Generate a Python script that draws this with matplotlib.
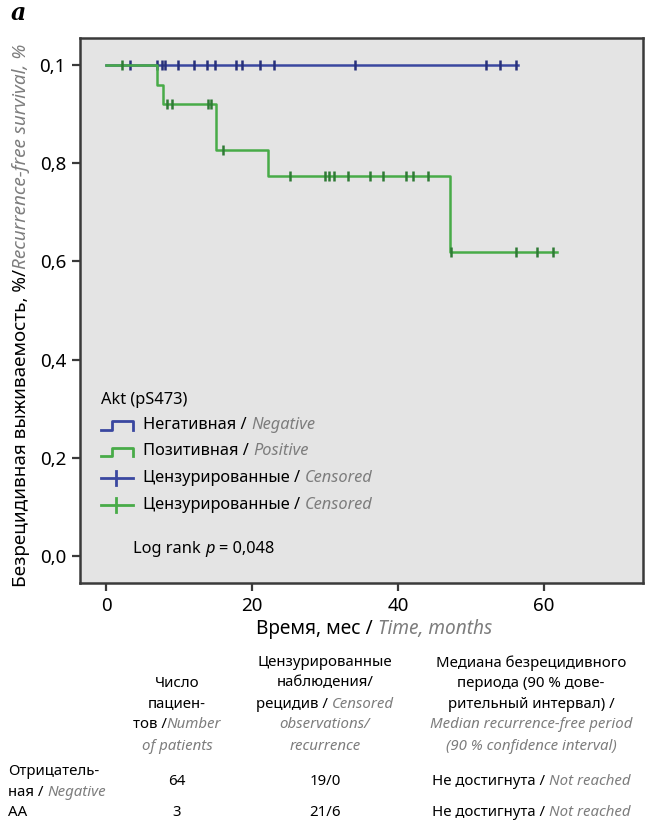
import numpy as np
import matplotlib
matplotlib.use("Agg")
import matplotlib.pyplot as plt
from matplotlib.lines import Line2D

plt.rcParams['font.family'] = ['Noto Sans', 'DejaVu Sans']

# ---------------- data ----------------
neg_end = 56.5
neg_censor = [3.2, 6.9, 7.6, 8.1, 9.9, 12.0, 13.8, 14.9, 17.8, 18.6, 21.1, 23.0,
              34.1, 52.1, 54.0, 56.2]
pos_event_times = [7.0, 7.8, 15.1, 22.2, 47.2]
pos_event_surv = [0.959, 0.921, 0.826, 0.774, 0.619]
pos_end = 61.8
pos_censor = [2.2, 8.3, 9.0, 13.9, 14.4, 16.0, 25.2, 30.0, 30.6, 31.2, 33.1, 36.1,
              38.0, 41.1, 42.1, 44.1, 47.3, 56.2, 59.1, 61.3]

xticks = [0, 20, 40, 60]
yticks = [0.0, 0.2, 0.4, 0.6, 0.8, 1.0]
ytick_labels = ["0,0", "0,2", "0,4", "0,6", "0,8", "0,1"]

table_rows = [("64", "19/0"), ("3", "21/6")]

# ---------------- style ----------------
W, H = 646, 822
BLUE = '#3a47a0'
GREEN = '#48ab48'
BLUE_M = '#27307a'
GREEN_M = '#2f7a35'
GRAY = '#7d7d7d'
FRAME = '#3a3a3a'

fig = plt.figure(figsize=(W / 100, H / 100), dpi=100)
ax = fig.add_axes([80 / W, 1 - 583 / H, 563 / W, 545 / H])
ax.set_facecolor('#e4e4e4')
ax.set_xlim(-3.6, 73.6)
ax.set_ylim(-0.055, 1.055)

def step_curve(ev_t, ev_s, end):
    t = np.concatenate([[0.0], ev_t, [end]])
    s = np.concatenate([[1.0], ev_s, [ev_s[-1] if len(ev_s) else 1.0]])
    return t, s

def surv_at(times, ev_t, ev_s):
    ev_t = np.asarray(ev_t); ev_s = np.asarray(ev_s)
    idx = np.searchsorted(ev_t, np.asarray(times), side='right')
    full = np.concatenate([[1.0], ev_s])
    return full[idx]

# negative group
tn, sn = step_curve(np.array([]), np.array([]), neg_end)
ax.step(tn, sn, where='post', color=BLUE, lw=1.8, zorder=3)
ax.plot(neg_censor, surv_at(neg_censor, [], []), ls='none', marker='|',
        ms=7, mew=1.8, color=BLUE_M, zorder=4)
# positive group
tp, sp = step_curve(np.array(pos_event_times), np.array(pos_event_surv), pos_end)
ax.step(tp, sp, where='post', color=GREEN, lw=1.8, zorder=5)
ax.plot(pos_censor, surv_at(pos_censor, pos_event_times, pos_event_surv), ls='none',
        marker='|', ms=7, mew=1.8, color=GREEN_M, zorder=6)

ax.set_xticks(xticks)
ax.set_xticklabels([str(x) for x in xticks])
ax.set_yticks(yticks)
ax.set_yticklabels(ytick_labels)
ax.tick_params(axis='both', length=6, width=1.6, color=FRAME, labelsize=13.5, pad=4)
for sp_ in ax.spines.values():
    sp_.set_color(FRAME)
    sp_.set_linewidth(1.8)

# ---------------- text helper ----------------
def fx(x):
    return x / W

def fy(y):
    return 1 - y / H

renderer = fig.canvas.get_renderer()

def space_w(size, italic=False):
    a = fig.text(0, 0, "x x", fontsize=size, style='italic' if italic else 'normal')
    b = fig.text(0, 0, "xx", fontsize=size, style='italic' if italic else 'normal')
    w = a.get_window_extent(renderer).width - b.get_window_extent(renderer).width
    a.remove(); b.remove()
    return w

def mixed(x, y, parts, size=11.5, ha='center', rotation=0):
    """parts: list of (text, style) with style in 'ru', 'en', 'it'"""
    items = []
    for s, st in parts:
        lead = len(s) - len(s.lstrip(' '))
        trail = len(s) - len(s.rstrip(' '))
        core = s.strip(' ')
        kw = dict(fontsize=size, color='black')
        if st == 'en':
            kw.update(color=GRAY, style='italic')
        elif st == 'it':
            kw.update(style='italic')
        italic = st in ('en', 'it')
        if rotation == 0:
            t = fig.text(0, 0, core, ha='left', va='center', **kw)
        else:
            t = fig.text(0, 0, core, ha='center', va='bottom', rotation=rotation,
                         rotation_mode='default', **kw)
        sw = space_w(size, italic)
        items.append((t, lead * sw, trail * sw))
    if rotation == 0:
        widths = [it[0].get_window_extent(renderer).width for it in items]
        total = sum(w + l + r for (t, l, r), w in zip(items, widths))
        pos = x - total / 2 if ha == 'center' else x
        for (t, l, r), w in zip(items, widths):
            pos += l
            t.set_position((fx(pos), fy(y)))
            pos += w + r
    else:
        hs = [it[0].get_window_extent(renderer).height for it in items]
        total = sum(h + l + r for (t, l, r), h in zip(items, hs))
        pos = (H - y) - total / 2  # from bottom
        for (t, l, r), h in zip(items, hs):
            pos += l
            t.set_position((fx(x), pos / H))
            pos += h + r

# panel letter
fig.text(fx(11), fy(13), "a", fontsize=17, fontweight='bold', style='italic',
         family='DejaVu Serif', ha='left', va='center')

# y label
mixed(21, 315, [("Безрецидивная выживаемость, %/", 'ru'),
                ("Recurrence-free survival, %", 'en')], size=13.6, rotation=90)
# x label
mixed(374, 629, [("Время, мес / ", 'ru'), ("Time, months", 'en')], size=13.7)

# legend (inside axes)
LS = 11.8
fig.text(fx(101), fy(400), "Akt (pS473)", fontsize=LS, ha='left', va='center')
mixed(143, 425, [("Негативная / ", 'ru'), ("Negative", 'en')], size=LS, ha='left')
mixed(143, 451, [("Позитивная / ", 'ru'), ("Positive", 'en')], size=LS, ha='left')
mixed(143, 478, [("Цензурированные / ", 'ru'), ("Censored", 'en')], size=LS, ha='left')
mixed(143, 505, [("Цензурированные / ", 'ru'), ("Censored", 'en')], size=LS, ha='left')
mixed(133, 549, [("Log rank ", 'ru'), ("p", 'it'), (" = 0,048", 'ru')], size=LS, ha='left')

def icon_step(y_low, y_high, color):
    xs = [101, 112, 112, 133, 133]
    ys = [y_low, y_low, y_high, y_high, y_low]
    fig.add_artist(Line2D([fx(v) for v in xs], [fy(v) for v in ys],
                          transform=fig.transFigure, color=color, lw=2))

def icon_cross(yc, color):
    fig.add_artist(Line2D([fx(101), fx(133)], [fy(yc), fy(yc)],
                          transform=fig.transFigure, color=color, lw=2))
    fig.add_artist(Line2D([fx(116), fx(116)], [fy(yc - 7), fy(yc + 7)],
                          transform=fig.transFigure, color=color, lw=2))

icon_step(430, 421, BLUE)
icon_step(456, 448, GREEN)
icon_cross(478, BLUE)
icon_cross(505, GREEN)

# ---------------- table ----------------
TS = 10.8
c1, c2, c3 = 177, 325, 531
mixed(c1, 683, [("Число", 'ru')], size=TS)
mixed(c1, 704, [("пациен-", 'ru')], size=TS)
mixed(c1, 724, [("тов /", 'ru'), ("Number", 'en')], size=TS)
mixed(c1, 746, [("of patients", 'en')], size=TS)

mixed(c2, 663, [("Цензурированные", 'ru')], size=TS)
mixed(c2, 683, [("наблюдения/", 'ru')], size=TS)
mixed(c2, 704, [("рецидив / ", 'ru'), ("Censored", 'en')], size=TS)
mixed(c2, 724, [("observations/", 'en')], size=TS)
mixed(c2, 746, [("recurrence", 'en')], size=TS)

mixed(c3, 663, [("Медиана безрецидивного", 'ru')], size=TS)
mixed(c3, 683, [("периода (90 % дове-", 'ru')], size=TS)
mixed(c3, 704, [("рительный интервал) /", 'ru')], size=TS)
mixed(c3, 724, [("Median recurrence-free period", 'en')], size=TS)
mixed(c3, 746, [("(90 % confidence interval)", 'en')], size=TS)

mixed(8, 771, [("Отрицатель-", 'ru')], size=TS, ha='left')
mixed(8, 792, [("ная / ", 'ru'), ("Negative", 'en')], size=TS, ha='left')
mixed(8, 812, [("АА", 'ru')], size=TS, ha='left')

row_y = [781, 812]
for (n, cr), yy in zip(table_rows, row_y):
    mixed(c1, yy, [(n, 'ru')], size=TS)
    mixed(c2, yy, [(cr, 'ru')], size=TS)
    mixed(c3, yy, [("Не достигнута / ", 'ru'), ("Not reached", 'en')], size=TS)

fig.savefig("out.png", dpi=100)
